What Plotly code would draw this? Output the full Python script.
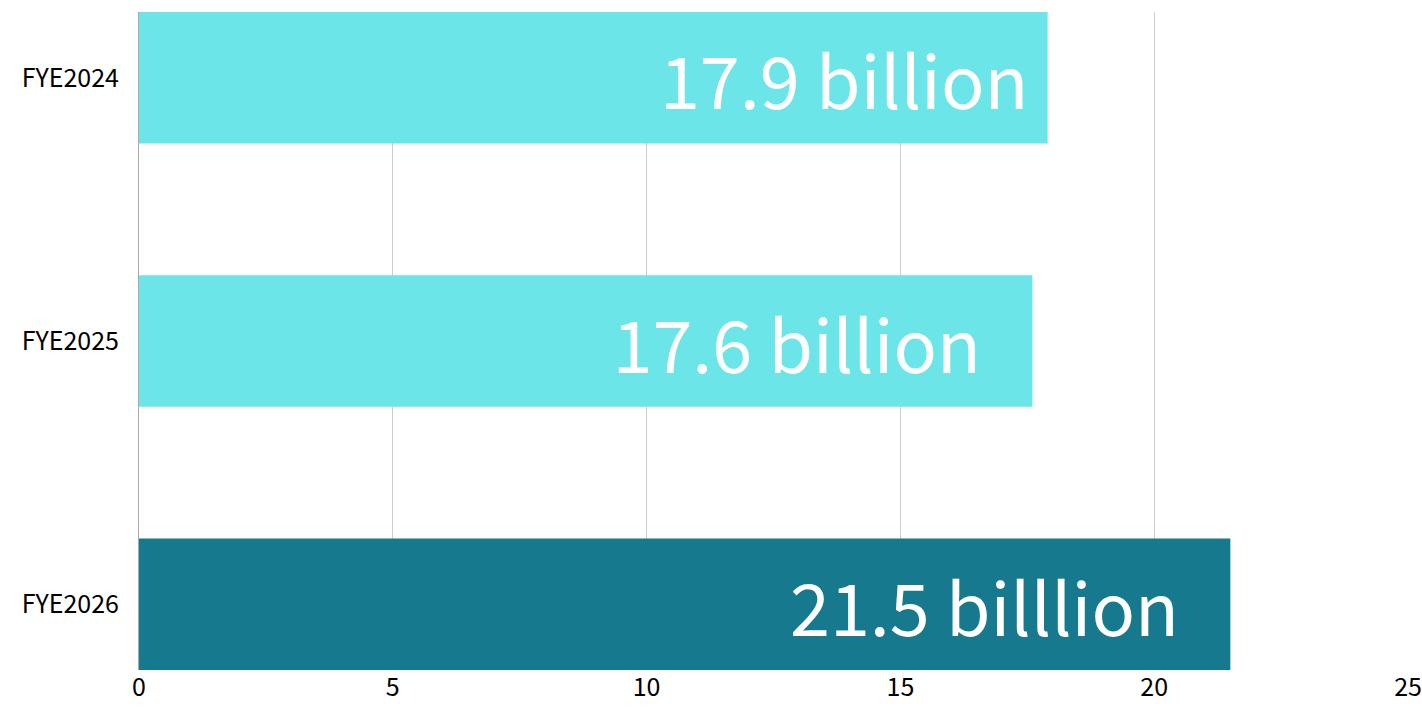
import plotly.graph_objects as go

categories = ["FYE2024", "FYE2025", "FYE2026"]
values = [17.9, 17.6, 21.5]
labels = ["17.9 billion\u00a0", "17.6 billion\u00a0\u00a0\u00a0", "21.5 billlion\u00a0\u00a0\u00a0"]
colors = ["#6be5e8", "#6be5e8", "#17798d"]
x_ticks = [0, 5, 10, 15, 20, 25]

FONT = "Noto Sans CJK JP"

fig = go.Figure(go.Bar(
    y=categories, x=values, orientation="h",
    marker=dict(color=colors, line=dict(width=0)),
    width=0.5,
    text=labels, textposition="inside", insidetextanchor="end",
    textfont=dict(family=FONT, size=72, color="white"),
    constraintext="none", cliponaxis=False,
))

fig.update_layout(
    width=1422, height=711,
    margin=dict(l=139, r=14, t=12, b=41, autoexpand=False),
    paper_bgcolor="white", plot_bgcolor="white",
    showlegend=False,
    font=dict(family=FONT, color="black"),
    bargap=0.5,
)
fig.update_xaxes(
    range=[0, 25], tickvals=x_ticks, ticktext=[str(v) for v in x_ticks],
    showgrid=True, gridcolor="#cccccc", gridwidth=1,
    zeroline=False, showline=False, automargin=False,
    tickfont=dict(family=FONT, size=25, color="black"),
    ticks="", fixedrange=True,
)
fig.update_yaxes(
    categoryorder="array", categoryarray=categories,
    autorange=False, range=[2.25, -0.25],
    showline=True, linecolor="#aaaaaa", linewidth=1,
    showgrid=False, zeroline=False, automargin=False,
    tickfont=dict(family=FONT, size=25, color="black"),
    ticks="", ticklabelstandoff=14,
)

fig.write_html(
    "out.html",
    config={"displayModeBar": False},
    post_script="document.body.style.margin='0';document.body.style.overflow='hidden';",
)
